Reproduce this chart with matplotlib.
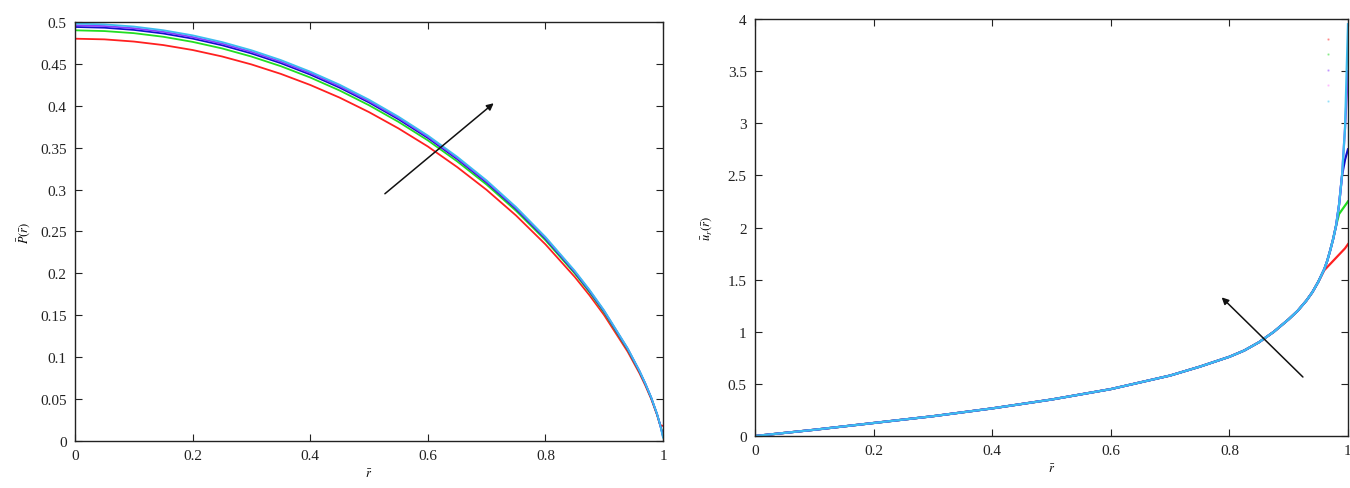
import numpy as np
import matplotlib.pyplot as plt
from matplotlib.lines import Line2D

plt.rcParams['font.family'] = ['Liberation Serif', 'DejaVu Serif']
plt.rcParams['mathtext.fontset'] = 'stix'

# series colours (red, green, blue, violet, cyan)
colors = ['#ff2020', '#22dd22', '#1010cc', '#8a3cff', '#3cbcf0']

# left panel: pressure profile P(r)
r_p = [0, 0.05, 0.1, 0.15, 0.2, 0.25, 0.3, 0.35, 0.4, 0.45, 0.5, 0.55, 0.6, 0.65, 0.7,
       0.75, 0.8, 0.85, 0.875, 0.9, 0.94, 0.96, 0.97, 0.98, 0.99, 0.995, 1.0]
P_red = [.480, .4792, .4766, .4724, .4665, .4588, .4493, .4380, .4248, .4097, .3924, .3730, .3514,
         .3268, .2996, .2691, .2347, .1957, .1739, .1501, .1065, .0808, .0662, .0501, .0309, .0191, .018]
P_green = [.490, .4891, .4866, .4823, .4762, .4684, .4587, .4472, .4337, .4182, .4006, .3808, .3587,
           .3336, .3059, .2747, .2396, .1998, .1775, .1532, .1087, .0825, .0676, .0511, .0316, .0195, .008]
P_blue = [.494, .4931, .4905, .4862, .4801, .4722, .4624, .4508, .4372, .4216, .4039, .3839, .3616,
          .3364, .3084, .2770, .2416, .2014, .1789, .1545, .1096, .0831, .0682, .0515, .0318, .0196, .006]
P_violet = [.496, .4951, .4925, .4882, .4820, .4741, .4643, .4526, .4390, .4233, .4055, .3855, .3631,
            .3377, .3096, .2781, .2425, .2022, .1797, .1551, .1101, .0835, .0684, .0518, .0319, .0197, .005]
P_cyan = [.498, .4971, .4945, .4901, .4840, .4760, .4662, .4545, .4407, .4251, .4072, .3870, .3645,
          .3391, .3109, .2792, .2435, .2030, .1804, .1557, .1105, .0838, .0687, .0520, .0321, .0198, .004]

# right panel: radial velocity u_r(r)
r_u = [0, 0.1, 0.2, 0.3, 0.4, 0.5, 0.6, 0.7, 0.75, 0.8, 0.825, 0.85, 0.875, 0.9, 0.915, 0.93,
       0.94, 0.95, 0.96, 0.965, 0.97, 0.975, 0.98, 0.985, 0.99, 0.995, 1.0]
u_red = [0, .06, .125, .19, .265, .35, .45, .58, .665, .76, .82, .9, 1.0, 1.12, 1.2, 1.3,
         1.38, 1.48, 1.59, 1.62, 1.65, 1.68, 1.71, 1.74, 1.77, 1.80, 1.84]
u_green = [0, .06, .125, .19, .265, .35, .45, .58, .665, .76, .82, .9, 1.0, 1.12, 1.2, 1.3,
           1.38, 1.48, 1.6, 1.68, 1.78, 1.89, 2.02, 2.13, 2.17, 2.21, 2.25]
u_blue = [0, .06, .125, .19, .265, .35, .45, .58, .665, .76, .82, .9, 1.0, 1.12, 1.2, 1.3,
          1.38, 1.48, 1.6, 1.68, 1.78, 1.89, 2.02, 2.22, 2.5, 2.65, 2.75]
u_violet = [0, .06, .125, .19, .265, .35, .45, .58, .665, .76, .82, .9, 1.0, 1.12, 1.2, 1.3,
            1.38, 1.48, 1.6, 1.68, 1.78, 1.89, 2.02, 2.22, 2.5, 2.95, 3.5]
u_cyan = [0, .06, .125, .19, .265, .35, .45, .58, .665, .76, .82, .9, 1.0, 1.12, 1.2, 1.3,
          1.38, 1.48, 1.6, 1.68, 1.78, 1.89, 2.02, 2.22, 2.5, 2.95, 3.95]

xticks = [0, 0.2, 0.4, 0.6, 0.8, 1]
xticklabels = ['0', '0.2', '0.4', '0.6', '0.8', '1']
yticks_p = [0, 0.05, 0.1, 0.15, 0.2, 0.25, 0.3, 0.35, 0.4, 0.45, 0.5]
yticklabels_p = ['0', '0.05', '0.1', '0.15', '0.2', '0.25', '0.3', '0.35', '0.4', '0.45', '0.5']
yticks_u = [0, 0.5, 1, 1.5, 2, 2.5, 3, 3.5, 4]
yticklabels_u = ['0', '0.5', '1', '1.5', '2', '2.5', '3', '3.5', '4']


def style_axes(ax):
    for s in ax.spines.values():
        s.set_color('#222222')
        s.set_linewidth(1.0)
    ax.tick_params(direction='in', top=True, right=True, length=5, width=0.8,
                   labelsize=11, colors='#222222', pad=6)


fig = plt.figure(figsize=(13.5, 4.89), dpi=100)
ax1 = fig.add_axes([0.0556, 0.0961, 0.4355, 0.857])
ax2 = fig.add_axes([0.5593, 0.1063, 0.4392, 0.8528])

for ys, c in zip([P_red, P_green, P_blue, P_violet, P_cyan], colors):
    ax1.plot(r_p, ys, color=c, lw=1.3)
ax1.set_xlim(0, 1)
ax1.set_ylim(0, 0.5)
ax1.set_xticks(xticks)
ax1.set_xticklabels(xticklabels)
ax1.set_yticks(yticks_p)
ax1.set_yticklabels(yticklabels_p)
ax1.set_xlabel(r'$\bar{r}$', fontsize=9, labelpad=4)
ax1.set_ylabel(r'$\bar{P}(\bar{r})$', fontsize=9, labelpad=6)
style_axes(ax1)
ax1.annotate('', xy=(0.712, 0.403), xytext=(0.527, 0.295),
             arrowprops=dict(arrowstyle='-|>', color='#111111', lw=1.1,
                             mutation_scale=10, shrinkA=0, shrinkB=0))

for ys, c in zip([u_red, u_green, u_blue, u_violet, u_cyan], colors):
    ax2.plot(r_u, ys, color=c, lw=1.6)
ax2.set_xlim(0, 1)
ax2.set_ylim(0, 4)
ax2.set_xticks(xticks)
ax2.set_xticklabels(xticklabels)
ax2.set_yticks(yticks_u)
ax2.set_yticklabels(yticklabels_u)
ax2.set_xlabel(r'$\bar{r}$', fontsize=9, labelpad=4)
ax2.set_ylabel(r'$\bar{u}_r(\bar{r})$', fontsize=9, labelpad=10)
style_axes(ax2)
ax2.annotate('', xy=(0.787, 1.33), xytext=(0.924, 0.566),
             arrowprops=dict(arrowstyle='-|>', color='#111111', lw=1.1,
                             mutation_scale=10, shrinkA=0, shrinkB=0))

# faint leftover legend markers in the corner
handles = [Line2D([], [], color=c, marker='.', ms=1.5, ls='none', alpha=0.35) for c in
           ['#ff2020', '#22dd22', '#8a3cff', '#ff80ff', '#38c6f4']]
ax2.legend(handles, [''] * 5, loc='upper right', frameon=False, fontsize=9,
           handlelength=0.3, handletextpad=0, labelspacing=0.28,
           bbox_to_anchor=(0.985, 0.985), borderpad=0.2)

fig.savefig('out.png', dpi=100)
